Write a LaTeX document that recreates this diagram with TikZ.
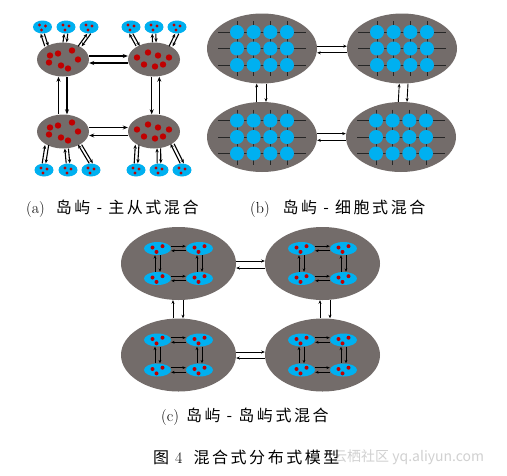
\documentclass[tikz,border=0pt]{standalone}
\usepackage{fontspec}
\newfontfamily\cjk{Noto Sans CJK SC}[LetterSpace=16]
\newfontfamily\wmfont{Noto Sans CJK SC}
\usetikzlibrary{shapes.geometric,arrows.meta,calc}
\definecolor{isle}{RGB}{115,108,106}
\definecolor{cell}{RGB}{0,176,240}
\definecolor{dotred}{RGB}{192,0,0}
\begin{document}
\begin{tikzpicture}[x=1pt,y=-1pt,
  isleA/.style={ellipse,fill=isle,inner sep=0pt,minimum width=52pt,minimum height=34pt},
  isleB/.style={ellipse,fill=isle,inner sep=0pt,minimum width=110pt,minimum height=70pt},
  isleC/.style={ellipse,fill=isle,inner sep=0pt,minimum width=115pt,minimum height=73pt},
  cellA/.style={ellipse,fill=cell,inner sep=0pt,minimum width=19pt,minimum height=13pt},
  cellC/.style={ellipse,fill=cell,inner sep=0pt,minimum width=27pt,minimum height=13pt},
  linkA/.style={line width=1.3pt,>={Stealth[length=5pt,width=4pt]}},
  linkS/.style={line width=1.1pt,>={Stealth[length=4pt,width=3.4pt]}},
  linkB/.style={line width=0.9pt,>={Stealth[length=3.6pt,width=3pt]}},
  linkC/.style={line width=0.7pt,>={Stealth[length=3.4pt,width=2.8pt]}},
  gridline/.style={line width=0.8pt,black!85},
  caption/.style={anchor=base west,inner sep=0pt,font=\fontsize{16}{18}\selectfont}
]
\useasboundingbox (0,0) rectangle (507,475);
\fill[white] (0,0) rectangle (507,475);

% ================= (a) =================
\node[isleA] (A1) at (63,59.5) {};
\node[isleA] (A2) at (154,59.5) {};
\node[isleA] (A3) at (63,131.5) {};
\node[isleA] (A4) at (154,131.5) {};
\foreach \g in {A1,A3}
  \foreach \dx/\dy in {-13/-4,-5/-6,9/-9,15/0,-14/3,-2/6,5/9}
    \fill[dotred] ($(\g)+(\dx,\dy)$) circle[radius=3.2];
\foreach \g in {A2,A4}
  \foreach \dx/\dy in {-17/-2,-6/-7,4/-4,15/-2,-10/5,1/7,9/5}
    \fill[dotred] ($(\g)+(\dx,\dy)$) circle[radius=3.2];

% arrows between islands (a)
\draw[linkA,->] ([yshift=3.5pt]A1.east) -- ([yshift=3.5pt]A2.west);
\draw[linkA,<-] ([yshift=-3.5pt]A1.east) -- ([yshift=-3.5pt]A2.west);
\draw[linkA,->] ([yshift=4pt]A3.east) -- ([yshift=4pt]A4.west);
\draw[linkA,<-] ([yshift=-4pt]A3.east) -- ([yshift=-4pt]A4.west);
\draw[linkA,<-] ([xshift=-4.5pt]A1.south) -- ([xshift=-4.5pt]A3.north);
\draw[linkA,->] ([xshift=4pt]A1.south) -- ([xshift=4pt]A3.north);
\draw[linkA,->] ([xshift=-2.3pt]A2.south) -- ([xshift=-2.3pt]A4.north);
\draw[linkA,<-] ([xshift=5.3pt]A2.south) -- ([xshift=5.3pt]A4.north);

% top satellites
\foreach \n/\x/\g/\ang in {t1/42.5/A1/141, t2/66/A1/84, t3/89/A1/38,
                           t4/131/A2/140, t5/154/A2/89, t6/177/A2/38} {
  \node[cellA] (\n) at (\x,27) {};
  \foreach \dx/\dy in {-3/-2,3/-1,-1/3}
    \fill[dotred] ($(\n)+(\dx,\dy)$) circle[radius=1.6];
  \draw[linkS,<-,transform canvas={xshift=-1.8pt}] (\n.south) -- (\g.\ang);
  \draw[linkS,->,transform canvas={xshift=1.8pt}] (\n.south) -- (\g.\ang);
}
% bottom satellites
\foreach \n/\x/\g/\ang in {b1/44/A3/220, b2/68/A3/282, b3/91/A3/322,
                           b4/136/A4/218, b5/159/A4/286, b6/182/A4/326} {
  \node[cellA] (\n) at (\x,170) {};
  \foreach \dx/\dy in {-3/-2,3/-1,-1/3}
    \fill[dotred] ($(\n)+(\dx,\dy)$) circle[radius=1.6];
  \draw[linkS,->,transform canvas={xshift=-1.8pt}] (\n.north) -- (\g.\ang);
  \draw[linkS,<-,transform canvas={xshift=1.8pt}] (\n.north) -- (\g.\ang);
}

% ================= (b) =================
\node[isleB] (B1) at (262,48.5) {};
\node[isleB] (B2) at (402,48.5) {};
\node[isleB] (B3) at (262,137) {};
\node[isleB] (B4) at (401,137) {};
\foreach \g in {B1,B2,B3,B4} {
  \foreach \dy in {-16.5,0,16.5}
    \draw[gridline] ($(\g)+(-44,\dy)$) -- ($(\g)+(44,\dy)$);
  \foreach \dx in {-25,-8.33,8.33,25}
    \draw[gridline] ($(\g)+(\dx,-27.5)$) -- ($(\g)+(\dx,27.5)$);
  \foreach \dx in {-25,-8.33,8.33,25}
    \foreach \dy in {-16.5,0,16.5}
      \fill[cell] ($(\g)+(\dx,\dy)$) circle[radius=7];
}
\draw[linkB,->] ([yshift=2.3pt]B1.east) -- ([yshift=2.3pt]B2.west);
\draw[linkB,<-] ([yshift=-4.3pt]B1.east) -- ([yshift=-4.3pt]B2.west);
\draw[linkB,->] ([yshift=3.4pt]B3.east) -- ([yshift=3.4pt]B4.west);
\draw[linkB,<-] ([yshift=-3.3pt]B3.east) -- ([yshift=-3.3pt]B4.west);
\draw[linkB,<-] ([xshift=-5.3pt]B1.south) -- ([xshift=-5.3pt]B3.north);
\draw[linkB,->] ([xshift=4pt]B1.south) -- ([xshift=4pt]B3.north);
\draw[linkB,<-] ([xshift=-2.7pt]B2.south) -- ([xshift=-2.7pt]B4.north);
\draw[linkB,->] ([xshift=6pt]B2.south) -- ([xshift=6pt]B4.north);

% ================= (c) =================
\node[isleC] (C1) at (178.5,263.5) {};
\node[isleC] (C2) at (322.5,263.5) {};
\node[isleC] (C3) at (178.5,355) {};
\node[isleC] (C4) at (322.5,355) {};
\foreach \g in {C1,C2,C3,C4} {
  \node[cellC] (\g-a) at ($(\g)+(-21,-15)$) {};
  \node[cellC] (\g-b) at ($(\g)+(21,-15)$) {};
  \node[cellC] (\g-c) at ($(\g)+(-21,15)$) {};
  \node[cellC] (\g-d) at ($(\g)+(21,15)$) {};
  \foreach \s in {a,b,c,d}
    \foreach \dx/\dy in {-5/-1,-1/3.4,5/-2.3}
      \fill[dotred] ($(\g-\s)+(\dx,\dy)$) circle[radius=2];
  \draw[linkC,->] ([yshift=2.3pt]\g-a.east) -- ([yshift=2.3pt]\g-b.west);
  \draw[linkC,<-] ([yshift=-2.3pt]\g-a.east) -- ([yshift=-2.3pt]\g-b.west);
  \draw[linkC,->] ([yshift=2.3pt]\g-c.east) -- ([yshift=2.3pt]\g-d.west);
  \draw[linkC,<-] ([yshift=-2.3pt]\g-c.east) -- ([yshift=-2.3pt]\g-d.west);
  \draw[linkC,<-] ([xshift=-2.5pt]\g-a.south) -- ([xshift=-2.5pt]\g-c.north);
  \draw[linkC,->] ([xshift=2.5pt]\g-a.south) -- ([xshift=2.5pt]\g-c.north);
  \draw[linkC,<-] ([xshift=-2.5pt]\g-b.south) -- ([xshift=-2.5pt]\g-d.north);
  \draw[linkC,->] ([xshift=2.5pt]\g-b.south) -- ([xshift=2.5pt]\g-d.north);
}
\draw[linkB,->] ([yshift=2.5pt]C1.east) -- ([yshift=2.5pt]C2.west);
\draw[linkB,<-] ([yshift=-4.5pt]C1.east) -- ([yshift=-4.5pt]C2.west);
\draw[linkB,->] ([yshift=3pt]C3.east) -- ([yshift=3pt]C4.west);
\draw[linkB,<-] ([yshift=-3pt]C3.east) -- ([yshift=-3pt]C4.west);
\draw[linkB,<-] ([xshift=-5.5pt]C1.south) -- ([xshift=-5.5pt]C3.north);
\draw[linkB,->] ([xshift=4.5pt]C1.south) -- ([xshift=4.5pt]C3.north);
\draw[linkB,<-] ([xshift=-2.5pt]C2.south) -- ([xshift=-2.5pt]C4.north);
\draw[linkB,->] ([xshift=7.5pt]C2.south) -- ([xshift=7.5pt]C4.north);

% ================= captions =================
\node[caption] (capa) at (26,213) {(a)\hspace{11pt}{\cjk 岛屿 - 主从式混合}};
\node[caption] (capb) at (250,213) {(b)\hspace{13pt}{\cjk 岛屿 - 细胞式混合}};
\node[caption] (capc) at (161,421) {(c)\hspace{7pt}{\cjk 岛屿 - 岛屿式混合}};
\node[anchor=west,inner sep=0pt,text=black!18,font=\wmfont\fontsize{14}{16}\selectfont] (wm) at (333,457) {云栖社区 yq.aliyun.com};
\node[caption] (capfig) at (153,463) {{\cjk 图}\hspace{6pt}4\hspace{11pt}{\cjk 混合式分布式模型}};
\end{tikzpicture}
\end{document}
